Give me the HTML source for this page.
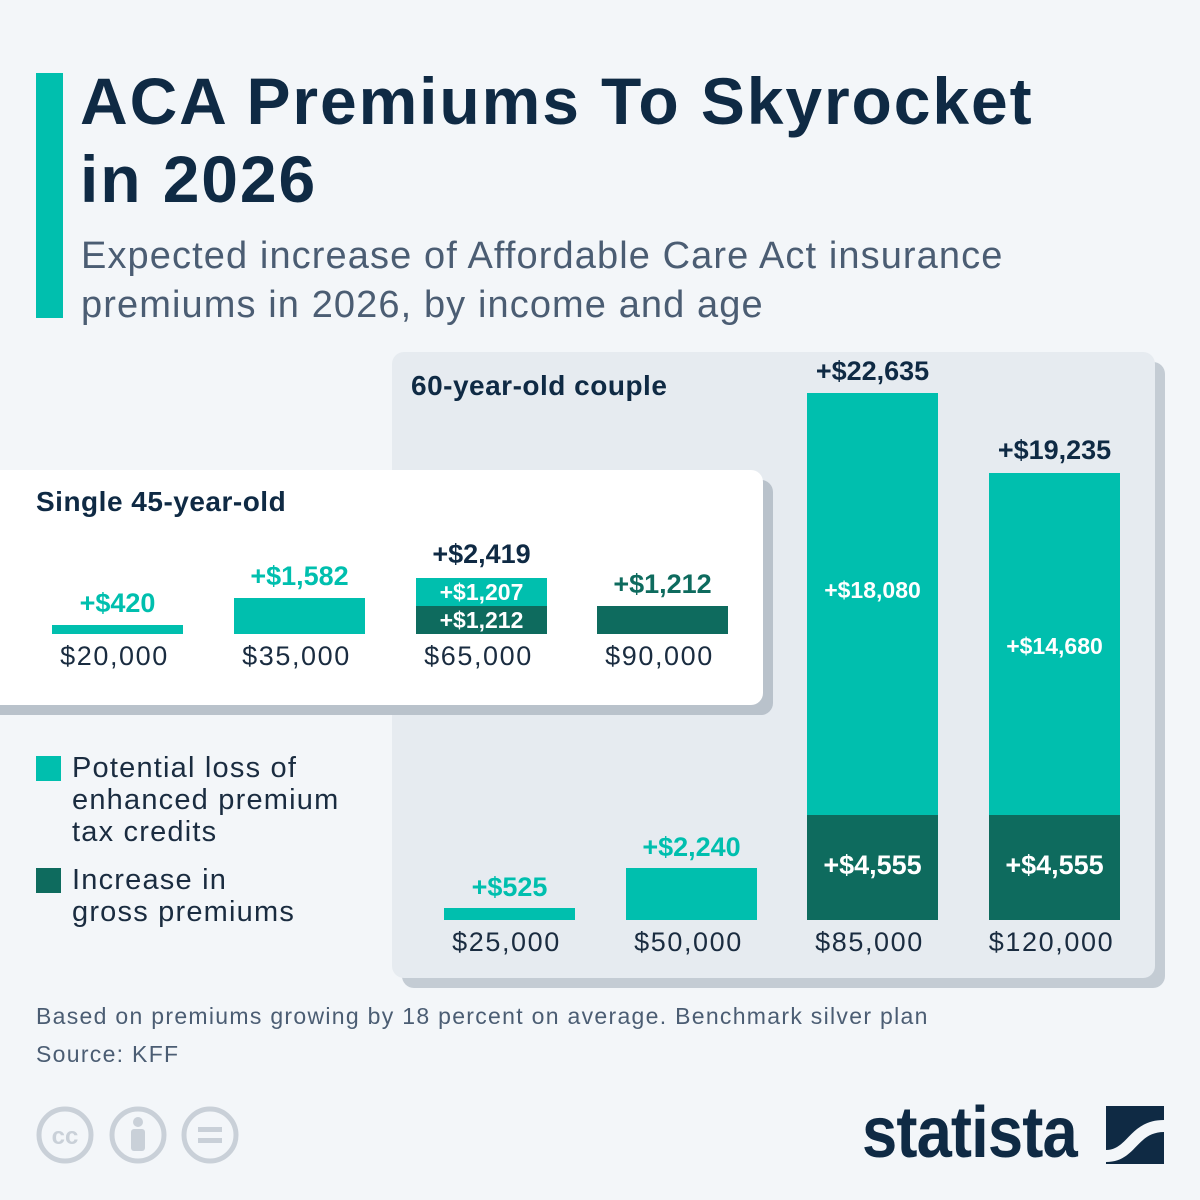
<!DOCTYPE html>
<html><head><meta charset="utf-8"><style>
*{margin:0;padding:0;box-sizing:border-box}
body{width:1200px;height:1200px;background:#f3f6f9;position:relative;overflow:hidden;font-family:"Liberation Sans",sans-serif;color:#0f2a44}
.a{position:absolute}
.t{background:#00bfae;position:absolute}
.d{background:#0e6b5e;position:absolute}
.lab{position:absolute;width:131px;text-align:center;font-size:27px;letter-spacing:1.6px;color:#1a2c40;white-space:nowrap}
.val{position:absolute;width:131px;text-align:center;font-size:27px;font-weight:bold;white-space:nowrap}
.in{position:absolute;width:131px;text-align:center;font-weight:bold;color:#fff;white-space:nowrap}
</style></head><body>
<div class="a" style="left:36px;top:73px;width:27px;height:245px;background:#00bfae"></div>
<div class="a" style="left:80px;top:62px;font-size:66px;font-weight:bold;line-height:78px;letter-spacing:1.9px;color:#0f2a44">ACA Premiums To Skyrocket<br>in 2026</div>
<div class="a" style="left:81px;top:232px;font-size:38px;line-height:49px;letter-spacing:1.1px;color:#4b5d73">Expected increase of Affordable Care Act insurance<br>premiums in 2026, by income and age</div>

<div class="a" style="left:402px;top:362px;width:763px;height:626px;background:#c4ccd4;border-radius:12px"></div>
<div class="a" style="left:392px;top:352px;width:763px;height:626px;background:#e6ebf0;border-radius:12px"></div>
<div class="a" style="left:411px;top:370px;font-size:28px;font-weight:bold;letter-spacing:0.5px">60-year-old couple</div>

<div class="a" style="left:-20px;top:480px;width:793px;height:235px;background:#b9c2cb;border-radius:12px"></div>
<div class="a" style="left:-20px;top:470px;width:783px;height:235px;background:#fff;border-radius:12px"></div>
<div class="a" style="left:36px;top:486px;font-size:28px;font-weight:bold;letter-spacing:0.5px">Single 45-year-old</div>

<div class="t" style="left:52px;top:625px;width:131px;height:9px"></div>
<div class="val" style="left:52px;top:588px;color:#00bfae">+$420</div>
<div class="lab" style="left:49px;top:641px">$20,000</div>
<div class="t" style="left:234px;top:598px;width:131px;height:36px"></div>
<div class="val" style="left:234px;top:561px;color:#00bfae">+$1,582</div>
<div class="lab" style="left:231px;top:641px">$35,000</div>
<div class="t" style="left:416px;top:578px;width:131px;height:28px"></div>
<div class="d" style="left:416px;top:606px;width:131px;height:28px"></div>
<div class="in" style="left:416px;top:579px;font-size:23px">+$1,207</div>
<div class="in" style="left:416px;top:607px;font-size:23px">+$1,212</div>
<div class="val" style="left:416px;top:539px;color:#0f2a44">+$2,419</div>
<div class="lab" style="left:413px;top:641px">$65,000</div>
<div class="d" style="left:597px;top:606px;width:131px;height:28px"></div>
<div class="val" style="left:597px;top:569px;color:#0e6b5e">+$1,212</div>
<div class="lab" style="left:594px;top:641px">$90,000</div>

<div class="t" style="left:444px;top:908px;width:131px;height:12px"></div>
<div class="val" style="left:444px;top:872px;color:#00bfae">+$525</div>
<div class="lab" style="left:441px;top:927px">$25,000</div>
<div class="t" style="left:626px;top:868px;width:131px;height:52px"></div>
<div class="val" style="left:626px;top:832px;color:#00bfae">+$2,240</div>
<div class="lab" style="left:623px;top:927px">$50,000</div>
<div class="t" style="left:807px;top:393px;width:131px;height:422px"></div>
<div class="d" style="left:807px;top:815px;width:131px;height:105px"></div>
<div class="in" style="left:807px;top:577px;font-size:23px">+$18,080</div>
<div class="in" style="left:807px;top:850px;font-size:27px">+$4,555</div>
<div class="val" style="left:807px;top:356px;color:#0f2a44">+$22,635</div>
<div class="lab" style="left:804px;top:927px">$85,000</div>
<div class="t" style="left:989px;top:473px;width:131px;height:342px"></div>
<div class="d" style="left:989px;top:815px;width:131px;height:105px"></div>
<div class="in" style="left:989px;top:633px;font-size:23px">+$14,680</div>
<div class="in" style="left:989px;top:850px;font-size:27px">+$4,555</div>
<div class="val" style="left:989px;top:435px;color:#0f2a44">+$19,235</div>
<div class="lab" style="left:986px;top:927px">$120,000</div>

<div class="t" style="left:36px;top:756px;width:25px;height:25px"></div>
<div class="a" style="left:72px;top:752px;font-size:29px;line-height:32px;letter-spacing:1.2px;color:#1a2c40">Potential loss of<br>enhanced premium<br>tax credits</div>
<div class="d" style="left:36px;top:868px;width:25px;height:25px"></div>
<div class="a" style="left:72px;top:864px;font-size:29px;line-height:32px;letter-spacing:1.2px;color:#1a2c40">Increase in<br>gross premiums</div>

<div class="a" style="left:36px;top:997px;font-size:23px;line-height:38px;letter-spacing:1.3px;color:#4b5d73">Based on premiums growing by 18 percent on average. Benchmark silver plan<br>Source: KFF</div>

<svg class="a" style="left:30px;top:1100px" width="220" height="70">
<g fill="none" stroke="#c9d0d8" stroke-width="5">
<circle cx="35" cy="35" r="26"/><circle cx="108" cy="35" r="26"/><circle cx="180" cy="35" r="26"/></g>
<text x="35" y="44" text-anchor="middle" font-family="Liberation Sans" font-weight="bold" font-size="24" fill="#c9d0d8">cc</text>
<circle cx="108" cy="22" r="5" fill="#c9d0d8"/><rect x="101" y="29" width="14" height="22" rx="3" fill="#c9d0d8"/>
<rect x="168" y="27" width="24" height="5" fill="#c9d0d8"/><rect x="168" y="38" width="24" height="5" fill="#c9d0d8"/>
</svg>
<div class="a" style="left:862px;top:1092px;font-size:72px;font-weight:bold;color:#0f2a44;letter-spacing:-1px;transform:scaleX(0.88);transform-origin:left">statista</div>
<svg class="a" style="left:1106px;top:1106px" width="58" height="58"><rect width="58" height="58" fill="#0f2a44"/><path d="M0 44 C22 44 24 14 58 14 L58 26 C30 26 30 56 0 56Z" fill="#f3f6f9"/></svg>
</body></html>
